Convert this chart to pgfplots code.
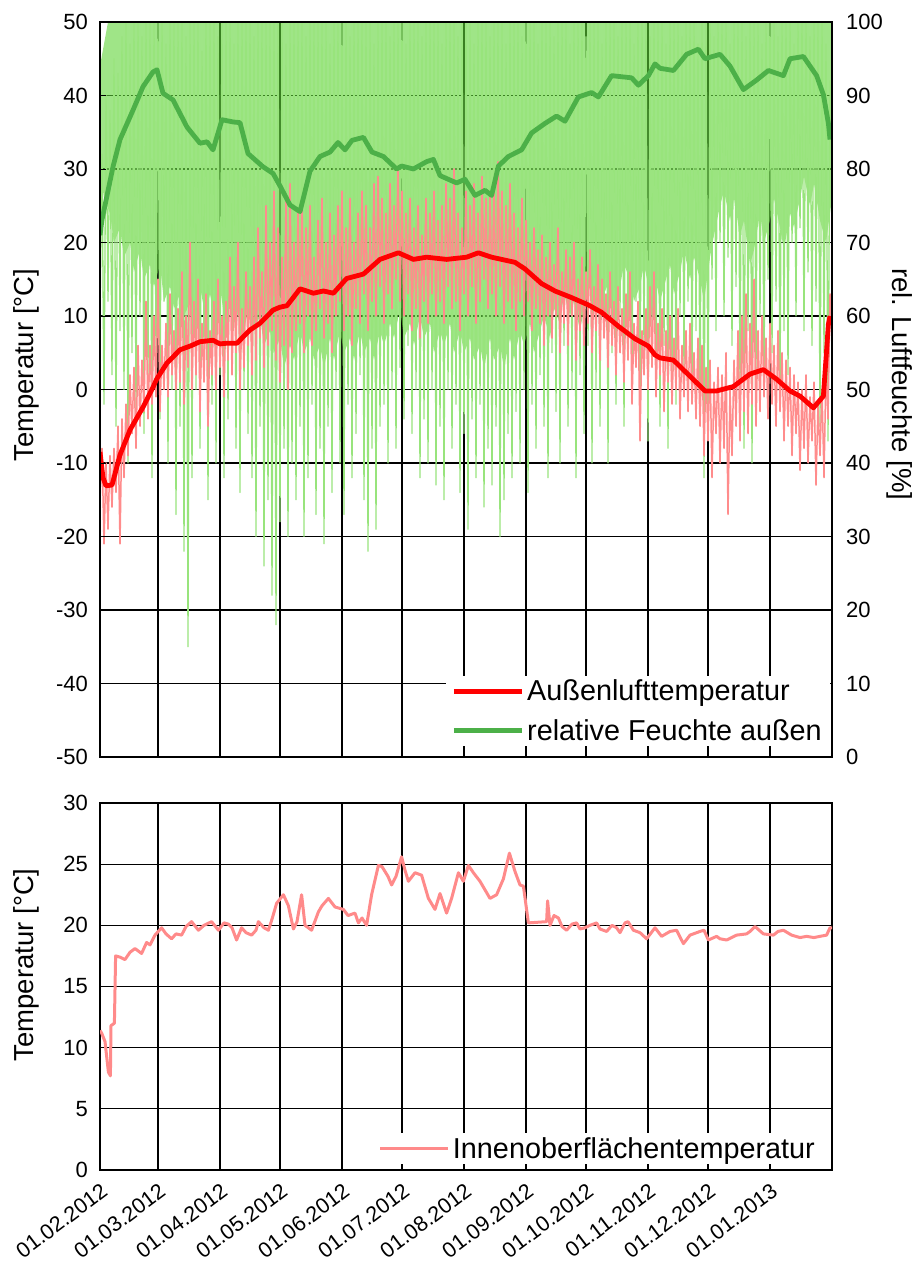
\documentclass[border=0pt]{standalone}
\usepackage{fontspec}
\setmainfont{Liberation Sans}
\usepackage{pgfplots}
\pgfplotsset{compat=1.18}

\definecolor{rawgreen}{RGB}{152,228,124}
\definecolor{bandgreen}{RGB}{95,212,55}
\definecolor{avggreen}{RGB}{76,176,72}
\definecolor{rawred}{RGB}{255,140,140}
\definecolor{innen}{RGB}{255,138,138}

\newcommand{\tickfont}{\fontsize{22}{26}\selectfont}
\newcommand{\datefont}{\fontsize{21.5}{25}\selectfont}
\newcommand{\labfont}{\fontsize{27.5}{32}\selectfont}
\newcommand{\legfont}{\fontsize{28.8}{33}\selectfont}

\pgfplotsset{
  panel/.style={
    scale only axis, width=732pt, anchor=south west,
    xmin=0, xmax=366,
    xtick={0,29,60,90,121,151,182,213,243,274,304,335},
    tick align=inside, major tick length=6pt,
    tick style={black, line width=0.9pt},
    axis line style={black, line width=2.4pt},
    tick label style={font=\tickfont, inner sep=0pt},
    grid style={black, line width=1.3pt},
    every axis plot/.append style={mark=none, line join=round},
    legend image code/.code={\draw[#1] (0pt,0pt) -- (68pt,0pt);},
  },
  top/.style={panel, at={(100pt,504pt)}, height=735pt},
  temp/.style={ymin=-50, ymax=50},
  rh/.style={ymin=0, ymax=100},
}

\begin{document}
\begin{tikzpicture}
\path[use as bounding box] (0pt,0pt) rectangle (916pt,1261pt);

% --- top panel, layer 1: RH axis with grid and raw humidity
\begin{axis}[top, rh,
  ytick={0,10,...,100},
  yticklabels={0,10,20,30,40,50,60,70,80,90,100},
  ytick pos=right, xtick pos=left, xticklabels={},
  yticklabel shift=14pt,
  xmajorgrids, ymajorgrids,
  ylabel={rel. Luftfeuchte [\%]},
  every axis y label/.style={at={(axis description cs:1.093,0.507)}, anchor=center, rotate=-90, font=\labfont},
]
% dense part of the hourly humidity (upper and lower edge of the band)
\addplot[fill=bandgreen, fill opacity=0.6, draw=none] coordinates {
(0,94)(2,97)(4,100)(366,100)
(366,76)(363,70)(360,73)(357,78)(355,75)(352,79)(350,76)(347,72)(345,74)(342,69)(340,72)(337,76)(335,73)(332,70)(330,74)(327,69)
(325,67)(322,73)(320,71)(317,76)(315,73)(312,77)(310,75)(307,71)(305,68)(302,62)(300,65)(297,68)(295,65)(292,69)(290,66)
(287,63)(285,67)(282,64)(280,62)(277,66)(275,63)(272,67)(270,64)(267,62)(265,65)(262,67)(260,64)(257,61)(255,65)(252,63)(250,60)
(247,62)(245,64)(242,61)(240,58)(237,62)(235,60)(232,63)(230,59)(227,61)(225,57)(222,60)(220,58)(217,55)(215,59)(212,56)(210,58)
(207,54)(205,57)(202,53)(200,56)(197,54)(195,57)(192,53)(190,56)(187,54)(185,57)(182,55)(180,58)(177,55)(175,59)(172,56)(170,58)
(167,55)(165,59)(162,57)(160,60)(157,56)(155,59)(152,57)(150,61)(147,57)(145,59)(142,56)(140,58)(137,54)(135,57)(132,55)(130,58)
(127,54)(125,57)(122,55)(120,58)(117,54)(115,57)(112,53)(110,56)(107,54)(105,57)(102,55)(100,58)(97,54)(95,56)(92,53)(90,57)
(87,55)(85,58)(82,56)(80,60)(77,58)(75,62)(72,58)(70,61)(67,59)(65,63)(62,60)(60,64)(57,60)(55,63)(52,61)(50,64)
(47,59)(45,62)(42,60)(40,63)(37,61)(35,64)(32,62)(30,67)(27,64)(25,67)(22,65)(20,69)(17,66)(15,70)(12,68)(10,72)(7,70)(5,74)(2,76)(0,80)
};
% single hourly values reaching further down
\addplot[rawgreen, line width=1.3pt] coordinates {
(0,60)(1,82)(2,48)(3,90)(4,62)(5,88)(6,52)(7,95)(8,45)(9,93)(10,58)(11,98)(12,50)(13,100)(14,40)(15,97)(16,55)(17,100)(18,47)(19,100)
(20,60)(21,98)(22,44)(23,100)(24,52)(25,100)(26,38)(27,100)(28,55)(29,100)(30,46)(31,100)(32,62)(33,97)(34,40)(35,100)(36,50)(37,100)(38,33)(39,100)
(40,45)(41,100)(42,28)(43,98)(44,15)(45,100)(46,38)(47,100)(48,50)(49,100)(50,42)(51,96)(52,55)(53,100)(54,35)(55,100)(56,48)(57,100)(58,40)(59,98)
(60,52)(61,100)(62,38)(63,100)(64,46)(65,100)(66,55)(67,97)(68,42)(69,100)(70,36)(71,100)(72,50)(73,100)(74,44)(75,100)(76,38)(77,98)(78,30)(79,100)
(80,45)(81,100)(82,26)(83,100)(84,35)(85,100)(86,22)(87,100)(88,18)(89,100)(90,32)(91,100)(92,42)(93,97)(94,30)(95,100)(96,40)(97,100)(98,35)(99,100)
(100,45)(101,100)(102,30)(103,98)(104,38)(105,100)(106,48)(107,100)(108,33)(109,100)(110,42)(111,100)(112,29)(113,100)(114,45)(115,97)(116,36)(117,100)(118,50)(119,100)
(120,40)(121,100)(122,33)(123,100)(124,48)(125,98)(126,38)(127,100)(128,44)(129,100)(130,52)(131,100)(132,35)(133,100)(134,28)(135,100)(136,42)(137,97)(138,31)(139,100)
(140,45)(141,100)(142,48)(143,100)(144,40)(145,98)(146,50)(147,100)(148,42)(149,100)(150,53)(151,100)(152,46)(153,97)(154,56)(155,100)(156,44)(157,100)(158,50)(159,100)
(160,38)(161,98)(162,46)(163,100)(164,40)(165,100)(166,50)(167,100)(168,37)(169,100)(170,45)(171,97)(172,35)(173,100)(174,50)(175,100)(176,42)(177,100)(178,48)(179,98)
(180,36)(181,100)(182,44)(183,100)(184,31)(185,100)(186,46)(187,97)(188,38)(189,100)(190,48)(191,100)(192,34)(193,100)(194,42)(195,98)(196,37)(197,100)(198,45)(199,100)
(200,30)(201,100)(202,35)(203,97)(204,44)(205,100)(206,38)(207,100)(208,47)(209,100)(210,40)(211,98)(212,50)(213,100)(214,36)(215,100)(216,48)(217,100)(218,42)(219,97)
(220,52)(221,100)(222,45)(223,100)(224,38)(225,100)(226,55)(227,98)(228,47)(229,100)(230,40)(231,100)(232,56)(233,100)(234,45)(235,97)(236,50)(237,100)(238,38)(239,100)
(240,52)(241,100)(242,44)(243,98)(244,56)(245,100)(246,40)(247,100)(248,50)(249,100)(250,45)(251,97)(252,58)(253,100)(254,40)(255,100)(256,55)(257,100)(258,48)(259,98)
(260,60)(261,100)(262,45)(263,100)(264,55)(265,100)(266,50)(267,97)(268,62)(269,100)(270,46)(271,100)(272,55)(273,100)(274,43)(275,98)(276,58)(277,100)(278,50)(279,100)
(280,45)(281,100)(282,56)(283,97)(284,42)(285,100)(286,52)(287,100)(288,48)(289,100)(290,60)(291,98)(292,52)(293,100)(294,62)(295,100)(296,50)(297,100)(298,58)(299,97)
(300,46)(301,100)(302,38)(303,100)(304,44)(305,100)(306,65)(307,98)(308,58)(309,100)(310,70)(311,100)(312,60)(313,100)(314,68)(315,97)(316,56)(317,100)(318,64)(319,100)
(320,50)(321,100)(322,42)(323,98)(324,58)(325,100)(326,40)(327,100)(328,52)(329,100)(330,60)(331,97)(332,50)(333,100)(334,65)(335,100)(336,55)(337,100)(338,62)(339,98)
(340,49)(341,100)(342,58)(343,100)(344,52)(345,100)(346,70)(347,97)(348,60)(349,100)(350,72)(351,100)(352,58)(353,100)(354,66)(355,98)(356,56)(357,100)(358,62)(359,100)
(360,45)(361,100)(362,55)(363,97)(364,43)(365,92)(366,80)
};
\end{axis}

% --- layer 2: raw outdoor temperature
\begin{axis}[top, temp, hide axis]
\addplot[rawred, line width=1.5pt] coordinates {
(0,-15)(1,-8)(2,-21)(3,-10)(4,-19)(5,-9)(6,-16)(7,-8)(8,-14)(9,-5)(10,-21)(11,-4)(12,-12)(13,-2)(14,-9)(15,2)(16,-6)(17,3)(18,-8)(19,6)
(20,-5)(21,4)(22,-3)(23,12)(24,-4)(25,6)(26,-2)(27,10)(28,-1)(29,15)(30,-3)(31,6)(32,0)(33,9)(34,-1)(35,13)(36,2)(37,8)(38,0)(39,11)
(40,1)(41,16)(42,-2)(43,10)(44,3)(45,20)(46,0)(47,12)(48,2)(49,15)(50,-3)(51,9)(52,1)(53,13)(54,-5)(55,8)(56,2)(57,12)(58,0)(59,15)
(60,3)(61,10)(62,-1)(63,12)(64,4)(65,18)(66,2)(67,14)(68,5)(69,20)(70,0)(71,11)(72,3)(73,16)(74,6)(75,14)(76,2)(77,18)(78,4)(79,22)
(80,7)(81,16)(82,3)(83,25)(84,6)(85,20)(86,8)(87,27)(88,4)(89,22)(90,1)(91,18)(92,6)(93,26)(94,0)(95,28)(96,5)(97,20)(98,8)(99,24)
(100,9)(101,26)(102,5)(103,22)(104,10)(105,25)(106,6)(107,18)(108,8)(109,23)(110,11)(111,26)(112,7)(113,20)(114,9)(115,24)(116,5)(117,21)(118,10)(119,25)
(120,12)(121,27)(122,8)(123,22)(124,10)(125,26)(126,6)(127,20)(128,11)(129,24)(130,9)(131,27)(132,13)(133,25)(134,8)(135,22)(136,12)(137,28)(138,10)(139,29)
(140,14)(141,26)(142,9)(143,24)(144,13)(145,28)(146,11)(147,25)(148,15)(149,30)(150,12)(151,27)(152,10)(153,24)(154,13)(155,26)(156,8)(157,22)(158,11)(159,25)
(160,7)(161,21)(162,12)(163,26)(164,9)(165,24)(166,13)(167,27)(168,10)(169,23)(170,12)(171,25)(172,9)(173,28)(174,14)(175,26)(176,11)(177,30)(178,12)(179,24)
(180,8)(181,22)(182,13)(183,27)(184,10)(185,25)(186,14)(187,28)(188,9)(189,24)(190,12)(191,29)(192,15)(193,26)(194,11)(195,27)(196,13)(197,28)(198,10)(199,31)
(200,14)(201,27)(202,9)(203,25)(204,12)(205,28)(206,11)(207,24)(208,8)(209,22)(210,12)(211,26)(212,10)(213,23)(214,12)(215,20)(216,8)(217,22)(218,11)(219,19)
(220,9)(221,21)(222,6)(223,18)(224,10)(225,20)(226,7)(227,17)(228,10)(229,22)(230,5)(231,16)(232,9)(233,19)(234,6)(235,18)(236,10)(237,20)(238,4)(239,15)
(240,8)(241,18)(242,6)(243,16)(244,9)(245,19)(246,5)(247,14)(248,8)(249,17)(250,4)(251,15)(252,7)(253,13)(254,3)(255,16)(256,6)(257,12)(258,2)(259,14)
(260,5)(261,11)(262,1)(263,13)(264,4)(265,16)(266,-2)(267,9)(268,3)(269,12)(270,-7)(271,8)(272,2)(273,11)(274,0)(275,14)(276,3)(277,16)(278,-1)(279,9)
(280,2)(281,11)(282,-3)(283,8)(284,1)(285,10)(286,-2)(287,7)(288,0)(289,11)(290,-4)(291,6)(292,-1)(293,8)(294,-3)(295,9)(296,-2)(297,5)(298,-4)(299,7)
(300,-5)(301,6)(302,-9)(303,3)(304,-7)(305,4)(306,-12)(307,1)(308,-6)(309,3)(310,-10)(311,2)(312,-8)(313,5)(314,-17)(315,0)(316,-9)(317,4)(318,-5)(319,8)
(320,-7)(321,10)(322,-3)(323,13)(324,-6)(325,9)(326,-2)(327,15)(328,-5)(329,8)(330,-3)(331,10)(332,-1)(333,7)(334,-4)(335,9)(336,-2)(337,6)(338,-5)(339,8)
(340,-3)(341,5)(342,-7)(343,4)(344,-5)(345,3)(346,-9)(347,2)(348,-6)(349,1)(350,-11)(351,0)(352,-8)(353,2)(354,-10)(355,-1)(356,-7)(357,1)(358,-13)(359,-2)
(360,-9)(361,0)(362,-12)(363,3)(364,-4)(365,13)(366,8)
};
\end{axis}

% --- layer 3: humidity moving average
\begin{axis}[top, rh, hide axis]
\addplot[avggreen, line width=4.8pt] coordinates {
(0,71)(1,73.1)(6.5,80.3)(10,84)(16.5,88)(21.5,91.2)(26.5,93.2)(28.5,93.5)(31.5,90.3)(36.5,89.4)(43.5,85.7)(50,83.5)(53.5,83.7)(56.5,82.6)
(61,86.7)(66.5,86.4)(70,86.3)(74,82.1)(81.5,80.3)(86.5,79.4)(90,77.7)(95,75.1)(100,74.2)(105,79.7)(110,81.7)(115,82.3)(119,83.6)(122.5,82.6)
(126,83.9)(131.7,84.3)(136,82.3)(141.7,81.7)(148.3,80.0)(150.8,80.4)(156.7,80.0)(163.3,81.0)(166.7,81.3)(170,79.1)(178.3,78.1)(182.5,78.6)
(187.5,76.4)(192.5,77.1)(195.8,76.4)(199.2,80.4)(204.2,81.7)(210.8,82.6)(215.8,84.9)(222.5,86.2)(228.3,87.2)(232.5,86.5)(239.2,89.8)
(245.8,90.4)(249.2,89.8)(255.8,92.7)(265.8,92.4)(269.2,91.4)(274.2,92.7)(277.5,94.3)(280,93.7)(286.7,93.4)(293.3,95.6)(299.2,96.3)
(302.5,95.0)(310,95.6)(315,94.0)(321.7,90.8)(328.3,92.1)(334.2,93.4)(341.7,92.7)(345,95.0)(351.7,95.3)(358.3,92.7)(361.7,90.1)(364.2,86.2)(365,84)
};
\end{axis}

% --- layer 4: temperature moving average, left axis, legend
\begin{axis}[top, temp, axis on top,
  ytick={-50,-40,...,50},
  yticklabels={-50,-40,-30,-20,-10,0,10,20,30,40,50},
  ytick pos=left, xtick pos=left, xticklabels={},
  yticklabel shift=12pt,
  ylabel={Temperatur [°C]},
  every axis y label/.style={at={(axis description cs:-0.1004,0.533)}, anchor=center, rotate=90, font=\labfont},
  legend style={at={(rel axis cs:1,0)}, anchor=south east, xshift=-2pt, yshift=11pt,
    fill=white, draw=none, font=\legfont, row sep=11pt, inner xsep=5pt, inner ysep=1pt,
    nodes={inner sep=3pt}},
  legend cell align=left,
]
\addplot[red, line width=4.8pt] coordinates {
(0,-8.5)(1.5,-12)(3,-13.1)(6,-13)(7,-12)(10,-8.9)(15,-5.5)(21.5,-2.4)(26.5,0.3)(28.5,1.5)(33.5,3.6)(40,5.4)(45,5.9)(50,6.5)(56.5,6.7)
(60,6.2)(63.5,6.3)(68.5,6.3)(75,8.1)(80,9.0)(86.5,10.8)(90,11.2)(93.5,11.4)(100,13.7)(106.7,13.1)(111.7,13.4)(116.7,13.1)(123.3,15.1)
(131.7,15.7)(140,17.7)(149.2,18.6)(156.7,17.7)(163.3,18.0)(173.3,17.7)(183.3,18.0)(189.2,18.6)(195.8,18.0)(207.5,17.3)(212.5,16.4)
(220.8,14.4)(227.5,13.4)(235.8,12.5)(244.2,11.5)(250.8,10.5)(259.2,8.6)(267.5,6.9)(274.2,5.9)(277.5,4.7)(280,4.3)(286.7,4.0)(295,1.8)
(302.5,-0.2)(308.3,-0.2)(316.7,0.4)(325,2.1)(331.7,2.7)(338.3,1.4)(345,-0.2)(350,-0.9)(356.7,-2.5)(361.7,-0.9)(364.2,8.9)(365,10)
};
\addlegendimage{avggreen, line width=4.8pt}
\legend{Außenlufttemperatur, relative Feuchte außen}
\end{axis}

% --- bottom panel: inner surface temperature
\begin{axis}[panel, at={(100pt,91pt)}, height=367pt,
  ymin=0, ymax=30,
  ytick={0,5,...,30},
  yticklabels={0,5,10,15,20,25,30},
  ytick pos=left, xtick pos=left,
  yticklabel shift=12pt,
  xticklabels={01.02.2012,01.03.2012,01.04.2012,01.05.2012,01.06.2012,01.07.2012,01.08.2012,01.09.2012,01.10.2012,01.11.2012,01.12.2012,01.01.2013},
  xticklabel style={font=\datefont, rotate=37, anchor=north east},
  xticklabel shift=12pt,
  xmajorgrids, ymajorgrids,
  ylabel={Temperatur [°C]},
  every axis y label/.style={at={(axis description cs:-0.1004,0.559)}, anchor=center, rotate=90, font=\labfont},
  legend style={at={(rel axis cs:1,0)}, anchor=south east, xshift=-9pt, yshift=6pt,
    fill=white, draw=none, font=\legfont, inner xsep=5pt, inner ysep=1pt,
    nodes={inner sep=3pt}},
]
\addplot[innen, line width=3pt] coordinates {
(0,11.4)(0.8,11.2)(2.5,10.5)(4.2,8.0)(5.2,7.7)(5.5,11.8)(7.2,12.0)(7.8,17.5)(10,17.4)(12.5,17.2)(15,17.8)(17.5,18.1)(20.8,17.7)(23.3,18.6)
(25,18.4)(27.5,19.2)(30.8,19.8)(33,19.3)(35.8,18.9)(38,19.3)(40.8,19.2)(43,19.9)(45.8,20.3)(49.2,19.6)(52,20.0)(55.8,20.3)(59.2,19.6)
(62,20.2)(64.2,20.1)(66,19.8)(68.3,18.8)(70.8,19.8)(73,19.4)(75.8,19.2)(78,19.6)(79.2,20.3)(82,19.8)(84.2,19.6)(86,20.5)(88.3,21.8)
(91.7,22.5)(94.2,21.6)(96.7,19.7)(98.5,20.3)(100.8,22.5)(102.5,20.0)(105.8,19.6)(109.2,21.1)(111,21.6)(114.2,22.2)(117.5,21.5)(121.7,21.3)
(124,20.8)(127.5,21.0)(129.2,20.2)(131,20.6)(133.3,20.0)(135.8,22.5)(139.2,24.9)(141,24.8)(142.5,24.4)(144,24.0)(145.8,23.3)(148,24.0)
(150.8,25.6)(152.5,24.5)(154.2,23.6)(157.5,24.3)(160.8,24.1)(164.2,22.2)(167.5,21.3)(170,22.6)(173.3,21.0)(175.8,22.2)(179.2,24.3)
(181.7,23.6)(184.2,24.9)(186.7,24.3)(190,23.6)(195,22.2)(198.3,22.5)(201.7,23.8)(204.7,25.9)(207.5,24.4)(210,23.3)(211.7,23.2)(214.2,20.2)
(223.3,20.3)(223.8,22.0)(225,20.0)(227,20.8)(229.2,20.6)(231,19.9)(233.3,19.6)(236,20.1)(238.3,20.2)(240,19.7)(242.5,19.8)(245,20.0)
(248.3,20.2)(250,19.7)(253.3,19.5)(256,20.0)(258.3,19.8)(260,19.4)(262.5,20.2)(264,20.3)(266.7,19.6)(270,19.4)(273.3,18.9)(277.5,19.8)
(280.8,19.1)(285,19.5)(288.3,19.6)(291.7,18.5)(295,19.2)(300,19.5)(302,19.6)(304.2,18.8)(308.3,19.1)(310,18.9)(313.3,18.8)(318.3,19.2)
(323.3,19.3)(325,19.5)(327.5,19.9)(331.7,19.3)(336.7,19.2)(339,19.5)(341.7,19.6)(345.8,19.2)(350,19.0)(353.3,19.1)(357,19.0)(360,19.1)
(363.3,19.2)(365,19.8)(366,19.8)
};
\legend{Innenoberflächentemperatur}
\end{axis}
\end{tikzpicture}
\end{document}
